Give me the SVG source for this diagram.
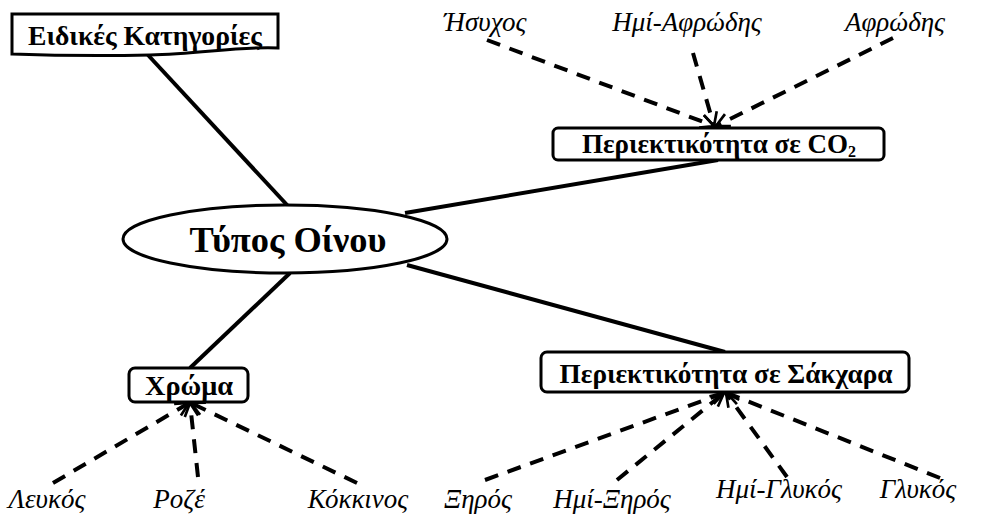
<svg xmlns="http://www.w3.org/2000/svg" width="983" height="517" viewBox="0 0 983 517">
<defs>
<style>
.box{fill:#fff;stroke:#000;stroke-width:3}
.lbl{font-family:"Liberation Serif","Times New Roman","DejaVu Serif",serif;font-weight:bold;fill:#000;text-anchor:middle}
.leaf{font-family:"Liberation Serif","Times New Roman","DejaVu Serif",serif;font-style:italic;fill:#000;font-size:27px;text-anchor:middle}
.solid{stroke:#000;stroke-width:4;fill:none}
.dash{stroke:#000;stroke-width:4;fill:none;stroke-dasharray:14 10;marker-end:url(#arr)}
</style>
<marker id="arr" viewBox="0 0 12 12" refX="11" refY="6" markerWidth="4" markerHeight="4" orient="auto" markerUnits="strokeWidth">
<path d="M1,1 L11,6 L1,11" fill="none" stroke="#000" stroke-width="2"/>
</marker>
</defs>
<rect width="983" height="517" fill="#fff"/>
<g id="connectors">
<line class="solid" x1="148" y1="55" x2="288" y2="206"/>
<line class="solid" x1="405" y1="213" x2="718" y2="160"/>
<line class="solid" x1="407" y1="265" x2="725" y2="352"/>
<line class="solid" x1="290" y1="273" x2="190" y2="368"/>
<line class="dash" x1="487" y1="40" x2="714" y2="126"/>
<line class="dash" x1="693" y1="53" x2="714" y2="126"/>
<line class="dash" x1="893" y1="38" x2="716" y2="126"/>
<line class="dash" x1="485" y1="480" x2="724" y2="393"/>
<line class="dash" x1="617" y1="480" x2="724" y2="393"/>
<line class="dash" x1="787" y1="477" x2="726" y2="393"/>
<line class="dash" x1="940" y1="478" x2="727" y2="393"/>
<line class="dash" x1="53" y1="483" x2="189" y2="403"/>
<line class="dash" x1="198" y1="477" x2="190" y2="403"/>
<line class="dash" x1="357" y1="483" x2="191" y2="403"/>
</g>
<g id="node-special">
<path class="box" d="M12,14 H278 V48 C240,46 200,54 150,55 C100,56 40,55 12,54 Z"/>
<text class="lbl" x="145" y="45" font-size="28" textLength="234" lengthAdjust="spacingAndGlyphs">Ειδικές Κατηγορίες</text>
</g>
<g id="node-main">
<ellipse class="box" cx="285" cy="239" rx="162" ry="34"/>
<text class="lbl" x="288" y="252" font-size="36" textLength="197" lengthAdjust="spacingAndGlyphs">Τύπος Οίνου</text>
</g>
<g id="node-co2">
<rect class="box" x="553" y="128" width="331" height="32" rx="5"/>
<text class="lbl" x="719" y="153" font-size="27">Περιεκτικότητα σε CO<tspan font-size="16" dy="4">2</tspan></text>
</g>
<g id="node-sugar">
<rect class="box" x="541" y="352" width="368" height="40" rx="6"/>
<text class="lbl" x="726" y="383" font-size="27" textLength="333" lengthAdjust="spacingAndGlyphs">Περιεκτικότητα σε Σάκχαρα</text>
</g>
<g id="node-color">
<rect class="box" x="129" y="368" width="119" height="34" rx="6"/>
<text class="lbl" x="189" y="395" font-size="28" textLength="88" lengthAdjust="spacingAndGlyphs">Χρώμα</text>
</g>
<g id="leaves">
<text class="leaf" x="485" y="31">Ήσυχος</text>
<text class="leaf" x="687" y="31">Ημί-Αφρώδης</text>
<text class="leaf" x="895" y="31">Αφρώδης</text>
<text class="leaf" x="47" y="508">Λευκός</text>
<text class="leaf" x="179" y="508">Ροζέ</text>
<text class="leaf" x="358" y="508">Κόκκινος</text>
<text class="leaf" x="478" y="508">Ξηρός</text>
<text class="leaf" x="612" y="508">Ημί-Ξηρός</text>
<text class="leaf" x="779" y="498">Ημί-Γλυκός</text>
<text class="leaf" x="918" y="498">Γλυκός</text>
</g>
</svg>
